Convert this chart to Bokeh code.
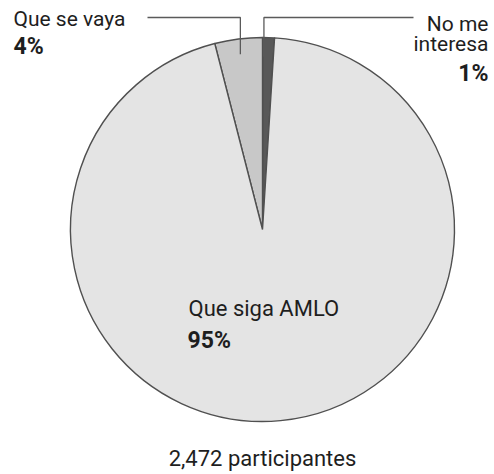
import numpy as np
from bokeh.plotting import figure
from bokeh.models import ColumnDataSource, Range1d
from bokeh.core.properties import value
from bokeh.embed import file_html
from bokeh.resources import INLINE

# ---- data ----
categories = ["No me interesa", "Que se vaya", "Que siga AMLO"]
percents = [1, 4, 95]
pct_labels = ["1%", "4%", "95%"]
colors = ["#585858", "#c8c8c8", "#e4e4e4"]
total_label = "2,472 participantes"

FONT = "Roboto"

# ---- layout ----
W, H = 494, 474
p = figure(width=W, height=H, output_backend="svg", toolbar_location=None,
           x_range=Range1d(0, W), y_range=Range1d(0, H),
           min_border=0, outline_line_color=None, background_fill_color="white",
           border_fill_color="white")
p.axis.visible = False
p.grid.visible = False

def Y(yimg):
    return H - yimg

cx, cy, r = 262, Y(229), 192

vals = np.array(percents, dtype=float)
fr = vals / vals.sum()
start0 = np.pi / 2 - fr[0] * 2 * np.pi
ends = start0 + np.cumsum(fr) * 2 * np.pi
starts = ends - fr * 2 * np.pi
src = ColumnDataSource(dict(start=starts, end=ends, color=colors, cat=categories))
p.wedge(x=cx, y=cy, radius=r, start_angle="start", end_angle="end",
        fill_color="color", line_color="#505050", line_width=1.4, source=src)

mids = (starts + ends) / 2
yline = Y(17)
# left leader (Que se vaya)
ax = cx + 0.92 * r * np.cos(mids[1]); ay = cy + 0.92 * r * np.sin(mids[1])
p.line([147, ax, ax], [yline, yline, ay], line_color="#5a5a5a", line_width=1.3)
# right leader (No me interesa)
bx = cx + 0.9 * r * np.cos(mids[0]) - 4; by = cy + 0.9 * r * np.sin(mids[0])
p.line([413, bx, bx], [yline, yline, by], line_color="#5a5a5a", line_width=1.3)

DY = 7  # rendering offset correction

def txt(x, yimg, s, size, bold=False, align="left"):
    p.text(x=[x], y=[Y(yimg - DY)], text=[s], text_font=value(FONT), text_font_size=f"{size}px",
           text_font_style="bold" if bold else "normal", text_align=align,
           text_baseline="alphabetic", text_color="#1e1e1e")

txt(13, 25, categories[1], 21)
txt(13, 53, pct_labels[1], 23, bold=True)
txt(488, 30, "No me", 21, align="right")
txt(488, 50, "interesa", 21, align="right")
txt(488, 80, pct_labels[0], 23, bold=True, align="right")
txt(188, 315, categories[2], 22)
txt(187, 347, pct_labels[2], 23, bold=True)
txt(262, 465, total_label, 22, align="center")

open("out.html", "w").write(file_html(p, INLINE))
